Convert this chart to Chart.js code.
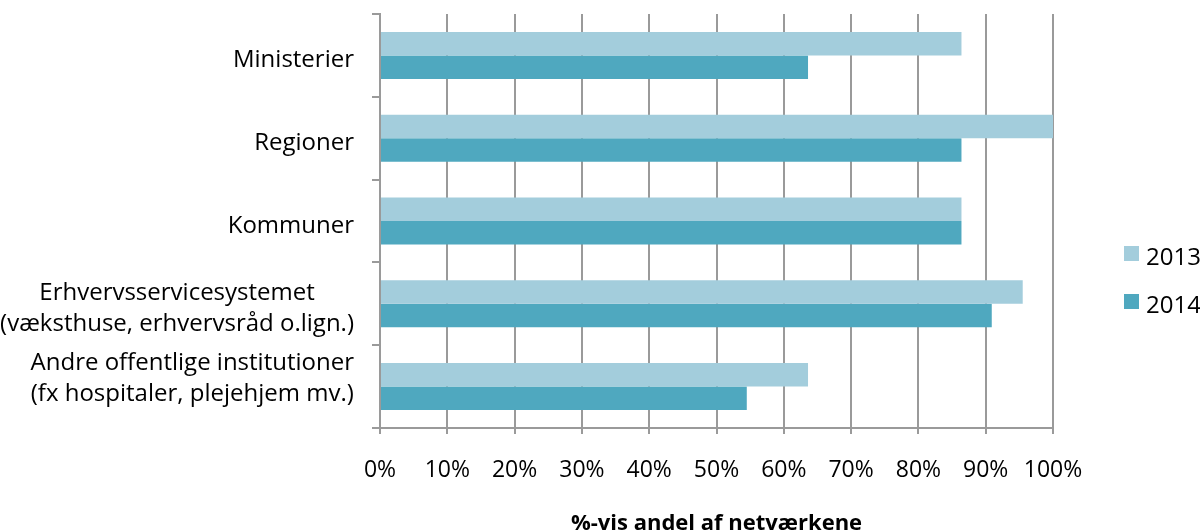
<!DOCTYPE html>
<html>
<head>
<meta charset="utf-8">
<script src="https://cdn.jsdelivr.net/npm/chart.js@4/dist/chart.umd.min.js"></script>
<style>
  body { margin: 0; background: #fff; }
  #wrap { width: 1200px; height: 531px; }
</style>
</head>
<body>
<div id="wrap"><canvas id="myChart" width="1200" height="531"></canvas></div>
<script>
'use strict'

// categories (multi-line labels as arrays)
const categories = [
  ['Ministerier'],
  ['Regioner'],
  ['Kommuner'],
  ['Erhvervsservicesystemet', '(væksthuse, erhvervsråd o.lign.)'],
  ['Andre offentlige institutioner', '(fx hospitaler, plejehjem mv.)']
];
const seriesNames = ['2013', '2014'];
const values2013 = [86.4, 100, 86.4, 95.5, 63.6];
const values2014 = [63.6, 86.4, 86.4, 90.9, 54.5];
const xTicks = [0, 10, 20, 30, 40, 50, 60, 70, 80, 90, 100];
const axisTitle = '%-vis andel af netværkene';

const lightBlue = '#a3cddc';
const darkBlue = '#4fa8bf';
const gridGray = '#9a9a9a';
const fontFamily = '"Open Sans", sans-serif';
// small vertical nudges for the category labels, like the original layout
const labelNudge = [5, 5, 5, 5, -8];

// draws the category labels (centered lines, right aligned block) and the legend
const labelPlugin = {
  id: 'labelPlugin',
  afterDraw(chart) {
    const ctx = chart.ctx;
    const yScale = chart.scales.y;
    ctx.save();
    ctx.fillStyle = '#000';
    ctx.font = '24px ' + fontFamily;
    ctx.textBaseline = 'middle';
    ctx.textAlign = 'center';
    const rightEdge = 354;
    const lineGap = 31;
    for (let i = 0; i < categories.length; i++) {
      let lines = categories[i];
      let w = 0;
      for (let j = 0; j < lines.length; j++) {
        w = Math.max(w, ctx.measureText(lines[j]).width);
      }
      let cx = rightEdge - w / 2;
      let cy = yScale.getPixelForValue(i) + labelNudge[i];
      let startY = cy - (lines.length - 1) * lineGap / 2;
      for (let j = 0; j < lines.length; j++) {
        ctx.fillText(lines[j], cx, startY + j * lineGap);
      }
    }

    // legend
    ctx.font = '24px ' + fontFamily;
    ctx.textAlign = 'left';
    const legendColors = [lightBlue, darkBlue];
    for (let i = 0; i < seriesNames.length; i++) {
      let top = 246 + i * 48;
      ctx.fillStyle = legendColors[i];
      ctx.fillRect(1124, top, 15, 15);
      ctx.fillStyle = '#000';
      ctx.fillText(seriesNames[i], 1146, top + 12);
    }
    ctx.restore();
  }
};

const data = {
  labels: categories.map(c => c.join(' ')),
  datasets: [
    {
      label: seriesNames[0],
      data: values2013,
      backgroundColor: lightBlue,
      borderWidth: 0
    },
    {
      label: seriesNames[1],
      data: values2014,
      backgroundColor: darkBlue,
      borderWidth: 0
    }
  ]
};

const config = {
  type: 'bar',
  data: data,
  options: {
    indexAxis: 'y',
    responsive: false,
    animation: false,
    layout: { padding: { top: 14, right: 147, left: 0, bottom: 0 } },
    datasets: {
      bar: { categoryPercentage: 0.568, barPercentage: 1.0 }
    },
    plugins: {
      legend: { display: false },
      tooltip: { enabled: false }
    },
    scales: {
      x: {
        min: 0,
        max: 100,
        afterBuildTicks(scale) {
          scale.ticks = xTicks.map(v => ({ value: v }));
        },
        afterFit(scale) {
          scale.height = 103;
        },
        grid: {
          color: gridGray,
          lineWidth: 2,
          tickLength: 6
        },
        border: { color: gridGray, width: 2 },
        ticks: {
          color: '#000',
          padding: 23,
          maxRotation: 0,
          font: { family: fontFamily, size: 23 },
          callback: v => v + '%'
        },
        title: {
          display: true,
          text: axisTitle,
          color: '#000',
          font: { family: fontFamily, size: 22, weight: 'bold' },
          padding: { top: 10, bottom: -6 }
        }
      },
      y: {
        offset: true,
        grid: {
          offset: true,
          drawOnChartArea: false,
          color: gridGray,
          lineWidth: 2,
          tickLength: 8
        },
        border: { color: gridGray, width: 2 },
        ticks: { display: false },
        afterFit(scale) {
          scale.width = 380;
        }
      }
    }
  },
  plugins: [labelPlugin]
};

let myChart = new Chart(document.getElementById('myChart'), config);
</script>
</body>
</html>
